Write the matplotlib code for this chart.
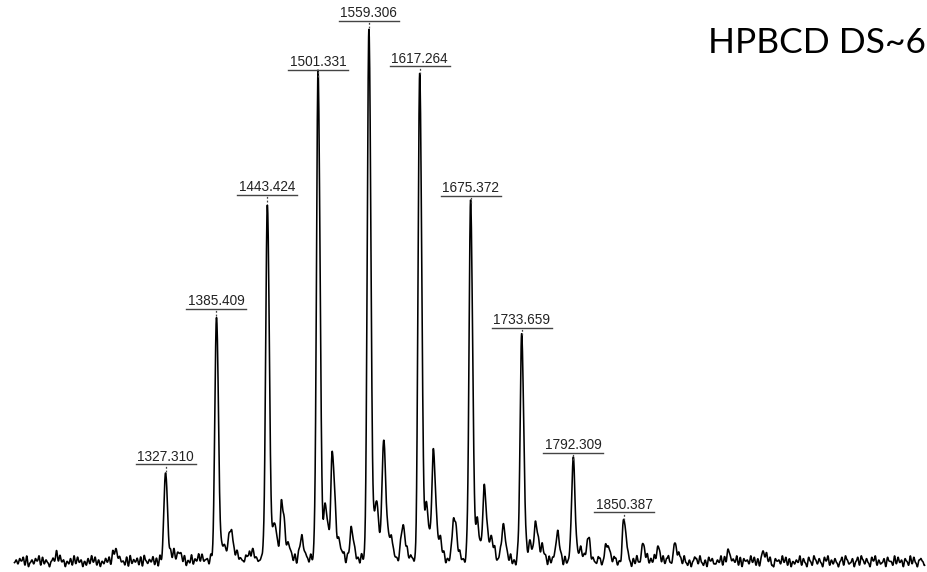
import numpy as np
import matplotlib.pyplot as plt

# labelled peaks: m/z and relative intensity (%)
peak_mz = [1327.310, 1385.409, 1443.424, 1501.331, 1559.306,
           1617.264, 1675.372, 1733.659, 1792.309, 1850.387]
peak_int = [16.7, 45.9, 67.3, 90.8, 100.0, 91.5, 67.1, 42.3, 18.8, 7.7]

# unlabelled minor peaks (shoulders, satellites, tails)
minor_mz = [1203.0, 1269.5, 1335.3, 1343.0, 1367.0, 1393.4, 1401.0, 1408.0,
            1426.0, 1451.3, 1460.0, 1467.5, 1482.0, 1509.5, 1517.6, 1525.0,
            1539.3, 1567.6, 1576.0, 1583.5, 1597.7, 1625.0, 1632.8, 1640.5,
            1656.5, 1683.0, 1691.0, 1699.0, 1712.3, 1743.0, 1749.8, 1757.0,
            1774.0, 1800.5, 1809.0, 1831.0, 1872.0, 1889.0, 1908.5, 1969.0,
            2009.0]
minor_int = [1.0, 2.4, 1.5, 1.5, 0.8, 3.2, 5.6, 1.5,
             1.9, 7.0, 10.9, 2.5, 3.6, 10.2, 19.5, 3.0,
             4.9, 10.7, 21.8, 3.5, 6.4, 9.8, 19.7, 3.0,
             8.3, 6.6, 13.2, 4.0, 6.4, 3.8, 6.6, 2.0,
             4.9, 2.0, 4.1, 3.6, 3.2, 2.6, 3.4, 1.8,
             1.7]

# broad raised baseline under the cluster
hump_mz = 1560.0
hump_int = 0.7

# baseline noise, one digit per 2 Da from 1155
noise_start = 1155.0
noise_step = 2.0
noise_digits = (
    "46375829146375928364157392846153729384615273948261"
    "53748291637452819364728195364827193645281937462815"
    "39264817356294837162548397162543879162534798162435"
    "72819364528173946528371946253817492635817394625183"
    "48261937452816397452816394752183694725183649271538"
    "61739452817364925381746293581746392518473692514837"
    "29461837529461835729164837259164387259146387251946"
    "85173942651837492651837942651873942615873942618573"
    "36492817536492817563948271563948217563948271536492"
    "74185296374185926374158296347158296374185926347185"
    "52938461752938416752938461759238461752938416759238"
)
noise_vals = [int(c) for c in noise_digits][:520]


def bump(x, c, h, sl, sr):
    d = x - c
    s = np.where(d < 0, sl, sr)
    return h * np.exp(-0.5 * (d / s) ** 2)


mz = np.arange(1155.0, 2193.5, 0.25)
y = np.zeros_like(mz)
for c, h in zip(peak_mz, peak_int):
    y += bump(mz, c, h, 1.8, 2.3)
for c, h in zip(minor_mz, minor_int):
    y += bump(mz, c, h, 1.8, 2.8)
y += bump(mz, hump_mz, hump_int, 130.0, 130.0)
for i, v in enumerate(noise_vals):
    y += bump(mz, noise_start + i * noise_step, (v - 4.5) * 0.26, 0.75, 0.75)

fig = plt.figure(figsize=(9.27, 5.72), dpi=100)
ax = fig.add_axes([0, 0, 1, 1])
ax.set_xlim(1138.5, 2196.0)
ax.set_ylim(-1.88, 105.6)
ax.axis("off")
ax.plot(mz, y, color="black", lw=1.15)

# peak labels: text over a short rule, dashed tick down to the apex
inv = ax.transData.inverted()
for c, h in zip(peak_mz, peak_int):
    px, py = ax.transData.transform((c, h))
    (x0, yl), (x1, _) = inv.transform([(px - 30, py + 9), (px + 30, py + 9)])
    _, yt = inv.transform((px, py + 12.5))
    _, ya = inv.transform((px, py + 1.5))
    ax.plot([x0, x1], [yl, yl], color="#444444", lw=1.0)
    ax.plot([c, c], [ya, yl], color="#444444", lw=0.9, dashes=(1.5, 1.5))
    ax.text(c, yt, f"{c:.3f}", ha="center", va="baseline", fontsize=9.8,
            family="Liberation Sans", color="#222222")

fig.text(926 / 927, 1 - 53 / 572, "HPBCD DS~6", ha="right", va="baseline",
         fontsize=25.5, family="Lato", color="black")

fig.savefig("out.png", dpi=100)
